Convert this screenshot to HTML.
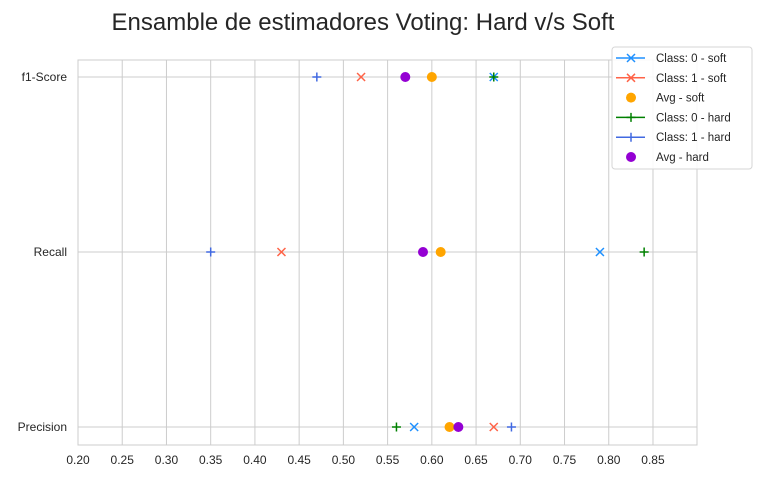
<!DOCTYPE html>
<html><head><meta charset="utf-8"><style>
body{margin:0;background:#fff;}
svg text{font-family:"Liberation Sans",Arial,sans-serif;fill:#262626;}
</style></head><body>
<svg width="762" height="476" xmlns="http://www.w3.org/2000/svg">
<text x="363" y="30" font-size="24" text-anchor="middle">Ensamble de estimadores Voting: Hard v/s Soft</text>
<g id="grid"></g>
<rect x="78" y="60" width="619" height="385" fill="none" stroke="#cccccc" stroke-width="1"/>
<g id="marks"></g>
<g id="legend"></g>
</svg>
<script>
const categories=["f1-Score","Recall","Precision"];
const xTicks=[0.20,0.25,0.30,0.35,0.40,0.45,0.50,0.55,0.60,0.65,0.70,0.75,0.80,0.85];
const class0Soft=[0.67,0.79,0.58];
const class1Soft=[0.52,0.43,0.67];
const avgSoft=[0.60,0.61,0.62];
const class0Hard=[0.67,0.84,0.56];
const class1Hard=[0.47,0.35,0.69];
const avgHard=[0.57,0.59,0.63];
const seriesNames=["Class: 0 - soft","Class: 1 - soft","Avg - soft","Class: 0 - hard","Class: 1 - hard","Avg - hard"];

const NS="http://www.w3.org/2000/svg";
const xS=v=>78+(v-0.20)/0.05*44.23;
const yS=i=>77+i*175;
function mk(tag,attrs,parent){const e=document.createElementNS(NS,tag);for(const k in attrs)e.setAttribute(k,attrs[k]);parent.appendChild(e);return e;}
const grid=document.getElementById('grid'),marks=document.getElementById('marks'),leg=document.getElementById('legend');
xTicks.forEach(t=>{
  const l=mk('line',{x1:xS(t),x2:xS(t),y1:60,y2:445,stroke:'#cccccc'},grid);
  
  
  const tx=mk('text',{x:xS(t),y:464,'font-size':12,'text-anchor':'middle'},grid);
  tx.textContent=t.toFixed(2);
  
  
});
categories.forEach((c,i)=>{
  const l=mk('line',{x1:78,x2:697,y1:yS(i),y2:yS(i),stroke:'#cccccc'},grid);
  
  
  const tx=mk('text',{x:67,y:yS(i)+4,'font-size':12,'text-anchor':'end'},grid);
  tx.textContent=c;
  
  
});
function drawX(g,x,y,col){mk('path',{d:`M${x-4} ${y-4}L${x+4} ${y+4}M${x-4} ${y+4}L${x+4} ${y-4}`,stroke:col,'stroke-width':1.5,fill:'none'},g);}
function drawPlus(g,x,y,col){mk('path',{d:`M${x-4.5} ${y}L${x+4.5} ${y}M${x} ${y-4.5}L${x} ${y+4.5}`,stroke:col,'stroke-width':1.5,fill:'none'},g);}
function drawDot(g,x,y,col){mk('circle',{cx:x,cy:y,r:5,fill:col},g);}
const specs=[[class0Soft,'#1e90ff',drawX],[class1Soft,'#ff6347',drawX],[avgSoft,'#ffa500',drawDot],[class0Hard,'#008000',drawPlus],[class1Hard,'#4169e1',drawPlus],[avgHard,'#9400d3',drawDot]];
specs.forEach((s,si)=>{
  s[0].forEach((v,i)=>{
    const g=mk('g',{},marks);
    
    
    s[2](g,xS(v),yS(i),s[1]);
  });
});
const lb=mk('rect',{x:612,y:47,width:140,height:122,rx:3,fill:'#fff','fill-opacity':0.85,stroke:'#d6d6d6'},leg);


specs.forEach((s,si)=>{
  const y=58+si*19.8;
  const g=mk('g',{},leg);
  
  
  if(s[2]!==drawDot)mk('line',{x1:616,x2:645,y1:y,y2:y,stroke:s[1],'stroke-width':1.5},g);
  s[2](g,631,y,s[1]);
  const t=mk('text',{x:656,y:y+4,'font-size':11.5},g);
  t.textContent=seriesNames[si];
});
</script>
</body></html>
